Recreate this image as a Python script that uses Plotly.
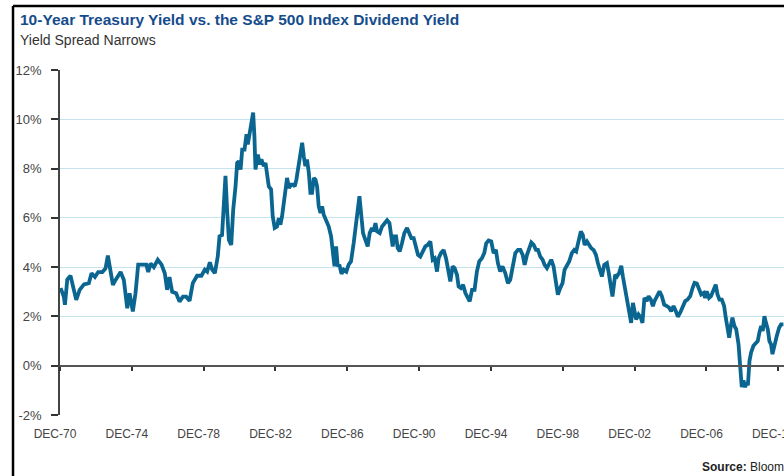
import plotly.graph_objects as go
from datetime import datetime

# Spread (10-yr Treasury yield minus S&P 500 dividend yield)
dec_year = [
    1970.95, 1971.13, 1971.19, 1971.32, 1971.50, 1971.69, 1971.82, 1972.01, 1972.25, 1972.52,
    1972.67, 1972.86, 1973.04, 1973.27, 1973.45, 1973.58, 1973.69, 1973.86, 1974.01, 1974.29,
    1974.47, 1974.66, 1974.79, 1974.97, 1975.12, 1975.27, 1975.49, 1975.72, 1975.83, 1975.96,
    1976.14, 1976.36, 1976.57, 1976.75, 1976.88, 1977.01, 1977.16, 1977.38, 1977.57, 1977.76,
    1977.94, 1978.13, 1978.31, 1978.55, 1978.79, 1978.98, 1979.11, 1979.26, 1979.39, 1979.54,
    1979.70, 1979.80, 1979.94, 1980.04, 1980.13, 1980.22, 1980.32, 1980.45, 1980.56, 1980.69,
    1980.78, 1980.87, 1980.97, 1981.06,
    1981.19, 1981.30, 1981.37, 1981.48, 1981.58, 1981.67, 1981.74, 1981.80, 1981.93, 1982.04,
    1982.13, 1982.26, 1982.36, 1982.45, 1982.54, 1982.67, 1982.76, 1982.87, 1983.00, 1983.10,
    1983.19, 1983.28, 1983.41, 1983.56, 1983.67, 1983.78, 1983.89, 1983.99, 1984.08, 1984.21,
    1984.30, 1984.40, 1984.49, 1984.58, 1984.67, 1984.77, 1984.86, 1984.95, 1985.05, 1985.14,
    1985.23, 1985.32, 1985.42, 1985.51, 1985.60, 1985.75, 1985.88, 1986.01, 1986.10, 1986.20,
    1986.29, 1986.38, 1986.47, 1986.59, 1986.71, 1986.86, 1986.99, 1987.12, 1987.27, 1987.40,
    1987.49, 1987.59, 1987.68, 1987.79, 1987.92, 1988.05, 1988.16, 1988.29, 1988.38, 1988.48,
    1988.57, 1988.72, 1988.85, 1988.98, 1989.13, 1989.26, 1989.35, 1989.44, 1989.53, 1989.63,
    1989.72, 1989.83, 1989.96, 1990.09, 1990.24, 1990.37, 1990.48, 1990.61, 1990.74, 1990.85,
    1990.98, 1991.11, 1991.26, 1991.39, 1991.54,
    1991.67, 1991.78, 1991.91, 1992.00, 1992.13, 1992.28, 1992.41, 1992.52, 1992.65, 1992.78,
    1992.89, 1993.02, 1993.11, 1993.24, 1993.36, 1993.49, 1993.61, 1993.73, 1993.86, 1994.00,
    1994.13, 1994.26, 1994.41, 1994.54, 1994.65, 1994.78, 1994.93, 1995.06, 1995.19, 1995.30,
    1995.43, 1995.56, 1995.71, 1995.86, 1995.99, 1996.12, 1996.27, 1996.42, 1996.55, 1996.68,
    1996.79, 1996.92, 1997.05, 1997.16, 1997.29, 1997.42, 1997.53, 1997.66, 1997.79, 1997.90,
    1998.03, 1998.16, 1998.27, 1998.40, 1998.53, 1998.64, 1998.77, 1998.90, 1999.01, 1999.14,
    1999.27, 1999.42, 1999.55, 1999.66, 1999.79, 1999.92, 2000.03, 2000.13, 2000.26, 2000.39,
    2000.50, 2000.63, 2000.76, 2000.87, 2001.00, 2001.09, 2001.22, 2001.37, 2001.46, 2001.59,
    2001.68,
    2001.83, 2001.93, 2002.05, 2002.17, 2002.26, 2002.39, 2002.52, 2002.63, 2002.72, 2002.82,
    2002.91, 2003.00, 2003.13, 2003.26, 2003.35, 2003.46, 2003.59, 2003.69, 2003.82, 2003.93,
    2004.02, 2004.15, 2004.30, 2004.43, 2004.56, 2004.71, 2004.84, 2004.95, 2005.08, 2005.21,
    2005.32, 2005.45, 2005.58, 2005.73, 2005.86, 2006.01, 2006.14, 2006.25, 2006.38, 2006.51,
    2006.62, 2006.75, 2006.84, 2006.93, 2007.06, 2007.17, 2007.30, 2007.43, 2007.53, 2007.64,
    2007.77, 2007.90, 2007.99, 2008.08, 2008.18, 2008.27, 2008.36, 2008.47, 2008.57, 2008.70,
    2008.79, 2008.88, 2008.97, 2009.07, 2009.16, 2009.22, 2009.31, 2009.40, 2009.53, 2009.66,
    2009.77, 2009.86, 2009.96, 2010.05, 2010.14, 2010.23, 2010.33, 2010.42, 2010.51, 2010.59,
    2010.68, 2010.83, 2010.96, 2011.07, 2011.20,
]
spread = [
    3.15, 2.80, 2.47, 3.50, 3.65, 2.95, 2.67, 3.08, 3.30, 3.35,
    3.75, 3.60, 3.80, 3.80, 3.95, 4.47, 4.00, 3.28, 3.48, 3.80,
    3.48, 2.33, 2.94, 2.20, 2.94, 4.10, 4.10, 4.10, 3.80, 4.15,
    4.00, 4.30, 4.10, 3.75, 3.08, 3.60, 3.00, 2.94, 2.60, 2.80,
    2.80, 2.63, 3.35, 3.65, 3.65, 3.90, 3.82, 4.20, 3.90, 3.76,
    4.43, 5.25, 5.30, 6.33, 7.70, 6.33, 5.10, 4.90, 6.33, 7.28,
    8.23, 8.30, 7.96, 8.77,
    8.77, 9.39, 8.98, 9.45, 10.00, 10.27, 9.32, 7.96, 8.57, 8.17,
    8.37, 8.10, 8.23, 7.69, 7.28, 7.15, 6.06, 5.59, 5.65, 5.99,
    5.72, 6.06, 6.74, 7.62, 7.21, 7.35, 7.35, 7.28, 7.55, 8.10,
    8.64, 9.05, 8.50, 8.10, 8.37, 7.83, 7.01, 7.01, 7.62, 7.55,
    7.28, 6.47, 6.20, 6.47, 6.13, 5.86, 5.65, 5.25, 4.57, 4.03,
    4.84, 4.03, 4.10, 3.73, 3.90, 3.82, 4.10, 4.23, 4.98, 5.65,
    6.33, 6.88, 6.20, 5.38, 5.11, 4.84, 5.38, 5.59, 5.45, 5.79,
    5.45, 5.38, 5.65, 5.79, 5.90, 5.79, 5.38, 4.84, 5.25, 5.25,
    4.77, 4.64, 4.98, 5.38, 5.59, 5.38, 5.18, 5.18, 4.84, 4.50,
    4.43, 4.64, 4.84, 4.90, 5.04,
    4.30, 4.36, 3.82, 4.36, 4.57, 4.70, 4.36, 3.89, 3.42, 4.03,
    3.96, 3.69, 3.22, 3.15, 3.28, 2.95, 2.81, 2.61, 3.08, 3.08,
    3.82, 4.23, 4.36, 4.57, 4.97, 5.08, 5.04, 4.57, 4.70, 4.16,
    3.82, 4.03, 3.76, 3.35, 3.49, 3.96, 4.57, 4.70, 4.70, 4.50,
    4.09, 4.50, 4.77, 5.00, 4.90, 4.70, 4.70, 4.43, 4.30, 4.09,
    3.96, 4.16, 4.30, 4.03, 3.49, 2.88, 3.15, 3.35, 3.89, 4.09,
    4.23, 4.57, 4.70, 4.64, 5.11, 5.45, 5.31, 4.90, 5.04, 4.90,
    4.77, 4.70, 4.50, 4.16, 3.76, 3.62, 4.09, 4.16, 3.82, 3.22,
    2.81,
    3.69, 3.62, 3.76, 4.05, 3.62, 3.09, 2.62, 2.28, 1.74, 2.55,
    2.15, 1.88, 2.08, 1.95, 1.74, 2.75, 2.62, 2.82, 2.68, 2.42,
    2.62, 2.82, 3.02, 2.82, 2.48, 2.42, 2.35, 2.21, 2.42, 2.21,
    1.99, 2.15, 2.35, 2.62, 2.68, 2.82, 3.15, 3.36, 3.33, 3.09,
    2.89, 2.95, 2.75, 3.02, 2.75, 2.82, 3.02, 3.29, 2.89, 2.68,
    2.68, 2.42, 1.95, 1.48, 1.14, 1.61, 1.95, 1.61, 1.48, 0.87,
    -0.01, -0.87, -0.60, -0.87, -0.67, -0.80, 0.20, 0.54, 0.81, 0.94,
    1.00, 1.34, 1.61, 1.41, 2.01, 1.74, 1.48, 1.00, 0.87, 0.47,
    0.81, 1.21, 1.54, 1.68, 1.68,
]

tick_dates = ["%d-12-01" % y for y in range(1970, 2011, 4)]
tick_text = ["DEC-%02d" % (y % 100) for y in range(1970, 2011, 4)]
y_ticks = [-2, 0, 2, 4, 6, 8, 10, 12]
y_text = ["%d%%" % v for v in y_ticks]


def to_date(y):
    yr = int(y)
    start, end = datetime(yr, 1, 1), datetime(yr + 1, 1, 1)
    return start + (end - start) * (y - yr)


dates = [to_date(v) for v in dec_year]
x_range = ["1970-12-01", "2011-03-27"]
FONT = "Liberation Sans Narrow, Arial Narrow, Liberation Sans, Arial, sans-serif"

fig = go.Figure()
fig.add_trace(go.Scatter(x=dates, y=spread, mode="lines",
                         line=dict(color="#0a6690", width=3.8), hoverinfo="x+y"))
# empty trace so the zero-line axis gets drawn
fig.add_trace(go.Scatter(x=[], y=[], xaxis="x2", showlegend=False))

fig.update_layout(
    width=784, height=476,
    margin=dict(l=60, r=0, t=70, b=61, autoexpand=False),
    plot_bgcolor="white", paper_bgcolor="white",
    showlegend=False,
    font=dict(family=FONT, color="#444"),
    xaxis=dict(type="date", range=x_range, tickvals=tick_dates, ticktext=tick_text,
               showgrid=False, showline=False, zeroline=False, ticks="",
               tickfont=dict(size=12, color="#444"), ticklabelshift=-5,
               ticklabelstandoff=10, ticklabeloverflow="allow", automargin=False),
    xaxis2=dict(type="date", range=x_range, tickvals=tick_dates, overlaying="x",
                anchor="free", position=2 / 14, side="bottom",
                showline=True, linecolor="#555", linewidth=2,
                ticks="outside", ticklen=4, tickwidth=1.5, tickcolor="#333",
                showticklabels=False, showgrid=False, zeroline=False, automargin=False),
    yaxis=dict(range=[-2, 12], tickvals=y_ticks, ticktext=y_text,
               showgrid=True, gridcolor="#c4e5f0", gridwidth=1, zeroline=False,
               showline=True, linecolor="#444", linewidth=1.5,
               ticks="outside", ticklen=7, tickwidth=1.5, tickcolor="#333",
               tickfont=dict(size=13, color="#444"), ticklabelstandoff=7,
               automargin=False),
    annotations=[
        dict(text="<b>10-Year Treasury Yield vs. the S&P 500 Index Dividend Yield</b>",
             xref="paper", yref="paper", x=-0.058, y=1.145, xanchor="left", yanchor="middle",
             showarrow=False, font=dict(size=15.5, color="#154c8c", family=FONT)),
        dict(text="Yield Spread Narrows",
             xref="paper", yref="paper", x=-0.058, y=1.087, xanchor="left", yanchor="middle",
             showarrow=False, font=dict(size=14, color="#333", family=FONT)),
        dict(text="<b>Source:</b> Bloomberg",
             xref="paper", yref="paper", x=0.884, y=-0.151, xanchor="left", yanchor="middle",
             showarrow=False, font=dict(size=12, color="#222", family=FONT)),
    ],
    shapes=[
        dict(type="line", xref="paper", yref="paper", x0=-0.0649, x1=-0.0649,
             y0=-0.2, y1=1.1855, line=dict(color="black", width=2.5)),
        dict(type="line", xref="paper", yref="paper", x0=-0.0649, x1=1.02,
             y0=1.1855, y1=1.1855, line=dict(color="black", width=2.5)),
    ],
)

# drop the default 8px page margin so the figure sits at the window's corner
fig.write_html("out.html", config={"displayModeBar": False},
               post_script="document.body.style.margin = '0';")
